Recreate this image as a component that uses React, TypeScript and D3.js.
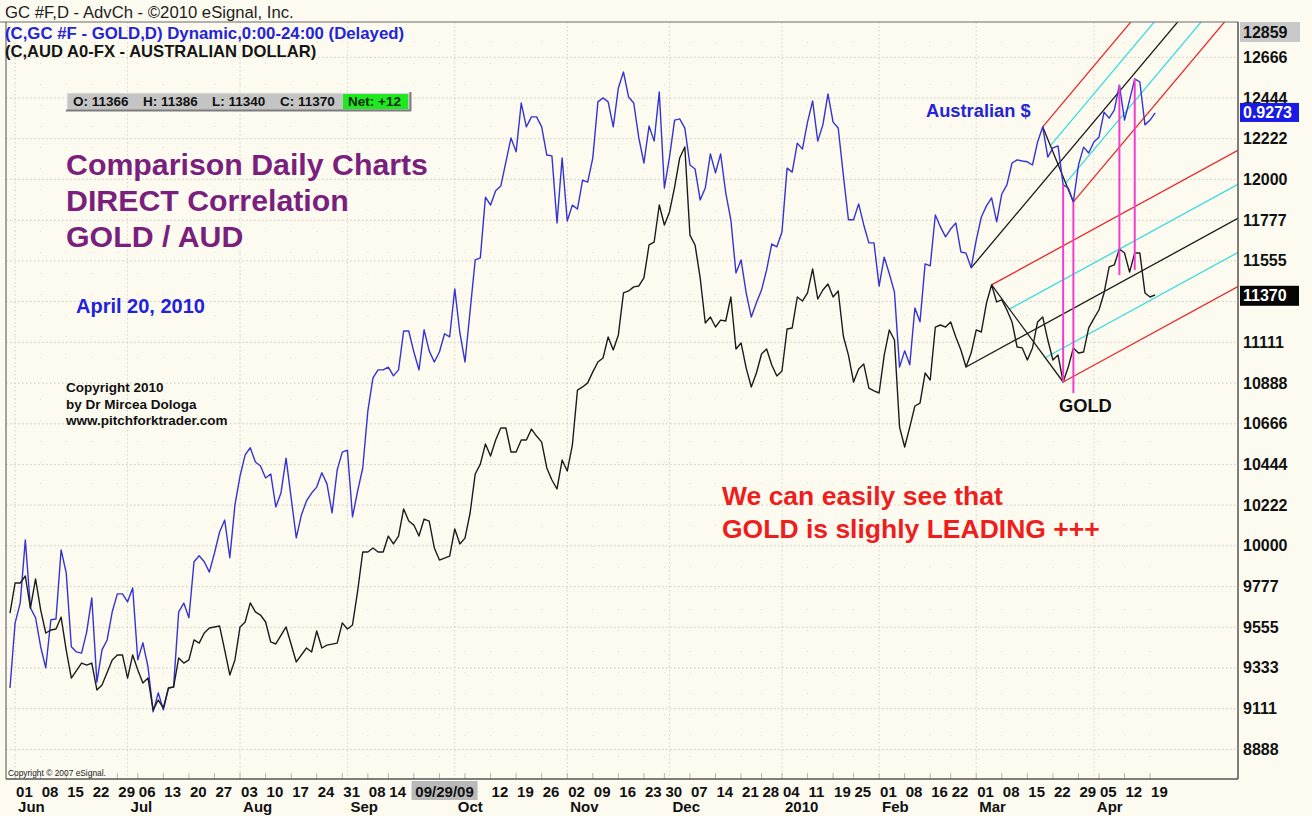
import React, { useEffect } from 'react';
import * as d3 from 'd3';

// ---------- data ----------
// session = trading day counted from Mon 1 Jun 2009 (= 0); 223 = Tue 20 Apr 2010
// Gold (GC #F) daily close, price x10
const goldSeries: [number, number][] = [
  [-1, 9633], [0, 9797], [1, 9797], [2, 9835], [3, 9660], [4, 9819], [5, 9650], [6, 9524], [7, 9540], [8, 9546], [9, 9611], [10, 9431], [11, 9278], [13, 9360], [14, 9349], [15, 9360], [16, 9213], [17, 9240], [19, 9377], [20, 9404], [21, 9404], [22, 9278], [23, 9404], [24, 9322], [25, 9251], [26, 9278], [27, 9104], [28, 9158], [29, 9115], [30, 9224], [31, 9229], [32, 9388], [33, 9360], [34, 9377], [35, 9486], [36, 9469], [37, 9524], [38, 9551], [40, 9562], [41, 9431], [42, 9295], [43, 9377], [44, 9557], [45, 9584], [46, 9688], [47, 9639], [48, 9622], [49, 9584], [50, 9475], [51, 9464], [53, 9557], [55, 9366], [57, 9442], [58, 9420], [59, 9535], [60, 9442], [61, 9458], [63, 9469], [64, 9579], [65, 9546], [66, 9568], [67, 9753], [68, 9966], [69, 9966], [70, 9988], [71, 9966], [72, 9966], [73, 10053], [74, 10010], [75, 10053], [76, 10201], [77, 10135], [78, 10113], [79, 10053], [80, 10146], [81, 10135], [82, 9988], [83, 9922], [85, 9944], [86, 10092], [87, 10010], [88, 10042], [89, 10179], [90, 10392], [91, 10446], [92, 10556], [93, 10490], [94, 10577], [95, 10643], [96, 10643], [97, 10512], [98, 10512], [99, 10577], [100, 10577], [101, 10637], [102, 10599], [103, 10566], [104, 10425], [105, 10359], [106, 10310], [107, 10468], [108, 10408], [109, 10550], [110, 10850], [111, 10867], [112, 10889], [113, 10949], [114, 11003], [115, 11025], [116, 11140], [117, 11069], [118, 11151], [119, 11380], [120, 11391], [121, 11413], [122, 11418], [123, 11462], [124, 11642], [125, 11658], [126, 11860], [127, 11751], [128, 11822], [129, 11958], [130, 12117], [131, 12177], [132, 11696], [133, 11642], [134, 11462], [135, 11216], [136, 11249], [137, 11194], [138, 11232], [139, 11227], [140, 11358], [141, 11074], [142, 11107], [143, 10970], [144, 10867], [145, 10943], [146, 11047], [147, 11074], [148, 10987], [149, 10927], [150, 10954], [151, 11183], [152, 11189], [153, 11358], [154, 11336], [155, 11380], [156, 11511], [157, 11347], [158, 11396], [159, 11429], [160, 11358], [161, 11391], [162, 11145], [163, 11041], [164, 10894], [165, 10965], [166, 10992], [167, 10861], [168, 10845], [169, 10834], [170, 11041], [171, 11178], [172, 11123], [173, 10648], [174, 10539], [175, 10648], [176, 10763], [177, 10779], [178, 10943], [179, 10905], [180, 11194], [181, 11205], [182, 11194], [183, 11222], [184, 11140], [185, 11069], [186, 10976], [187, 11052], [188, 11178], [189, 11167], [190, 11325], [191, 11424], [192, 11331], [193, 11342], [194, 11287], [195, 11222], [196, 11085], [197, 11080], [198, 11014], [199, 11080], [200, 11222], [201, 11249], [202, 11123], [203, 11014], [204, 11041], [205, 10894], [206, 10976], [207, 11080], [208, 11052], [209, 11058], [210, 11189], [211, 11240], [212, 11287], [213, 11380], [214, 11522], [215, 11533], [216, 11620], [217, 11598], [218, 11494], [219, 11598], [220, 11598], [221, 11380], [222, 11358], [223, 11370],
];

// Australian dollar (AUD A0-FX) daily close
const audSeries: [number, number][] = [
  [-1, 0.7825], [0, 0.7989], [1, 0.8039], [2, 0.8198], [3, 0.8027], [4, 0.8002], [5, 0.7929], [6, 0.7876], [7, 0.7997], [8, 0.7999], [9, 0.8173], [10, 0.8115], [11, 0.7929], [12, 0.7916], [13, 0.7913], [14, 0.7966], [15, 0.8052], [16, 0.784], [17, 0.7921], [18, 0.7946], [19, 0.8017], [20, 0.8062], [21, 0.8062], [22, 0.8042], [23, 0.8077], [24, 0.7896], [25, 0.7939], [26, 0.7878], [27, 0.7765], [28, 0.7813], [29, 0.777], [30, 0.7825], [31, 0.7828], [32, 0.8017], [33, 0.8039], [34, 0.8002], [35, 0.8143], [36, 0.8158], [37, 0.8143], [38, 0.8117], [39, 0.8165], [40, 0.8218], [41, 0.8248], [42, 0.8153], [43, 0.8286], [44, 0.8359], [45, 0.8412], [46, 0.843], [47, 0.8394], [48, 0.8384], [49, 0.8354], [50, 0.8364], [51, 0.8281], [52, 0.8316], [53, 0.8404], [55, 0.8203], [56, 0.8261], [57, 0.8296], [58, 0.8316], [59, 0.8331], [60, 0.8367], [61, 0.8339], [62, 0.8266], [63, 0.8374], [64, 0.8419], [65, 0.8424], [66, 0.8256], [67, 0.8321], [68, 0.8379], [69, 0.8523], [70, 0.8606], [71, 0.8626], [72, 0.8626], [73, 0.8633], [74, 0.8611], [75, 0.8626], [76, 0.8724], [77, 0.8724], [78, 0.8671], [79, 0.8626], [80, 0.8727], [81, 0.8674], [82, 0.8646], [83, 0.8671], [84, 0.8717], [85, 0.8709], [86, 0.883], [87, 0.8719], [88, 0.8646], [90, 0.8903], [91, 0.8908], [92, 0.9061], [93, 0.9041], [94, 0.9077], [95, 0.9089], [97, 0.921], [98, 0.9175], [99, 0.9298], [100, 0.9238], [101, 0.9263], [102, 0.9263], [103, 0.9238], [104, 0.9167], [105, 0.9165], [106, 0.8996], [107, 0.916], [108, 0.9001], [109, 0.9041], [110, 0.9031], [111, 0.9104], [112, 0.9099], [113, 0.916], [114, 0.9301], [115, 0.9311], [116, 0.9301], [117, 0.9238], [118, 0.9336], [119, 0.9376], [120, 0.9313], [121, 0.9298], [122, 0.921], [123, 0.9147], [124, 0.924], [125, 0.9202], [126, 0.9326], [127, 0.9084], [128, 0.9162], [129, 0.9255], [130, 0.9258], [131, 0.9235], [132, 0.9142], [133, 0.9132], [134, 0.9054], [135, 0.9084], [136, 0.917], [137, 0.9122], [138, 0.917], [139, 0.9072], [140, 0.9004], [141, 0.887], [142, 0.8903], [143, 0.882], [144, 0.8759], [145, 0.8795], [146, 0.8827], [147, 0.8878], [148, 0.8943], [149, 0.8936], [150, 0.8973], [151, 0.9134], [152, 0.9124], [153, 0.9197], [154, 0.9182], [155, 0.925], [156, 0.9303], [157, 0.9202], [158, 0.9243], [159, 0.9321], [160, 0.925], [161, 0.9235], [162, 0.9117], [163, 0.9004], [164, 0.9004], [165, 0.9044], [166, 0.8991], [167, 0.8946], [168, 0.8946], [169, 0.8837], [170, 0.891], [171, 0.8868], [172, 0.8822], [173, 0.8633], [174, 0.8674], [175, 0.8639], [176, 0.8782], [177, 0.8747], [178, 0.8893], [179, 0.8888], [180, 0.9016], [181, 0.8986], [182, 0.8961], [183, 0.8981], [184, 0.8996], [185, 0.8923], [186, 0.892], [187, 0.8883], [188, 0.8953], [189, 0.9011], [190, 0.9039], [191, 0.9059], [192, 0.8999], [193, 0.9069], [194, 0.9092], [195, 0.9147], [196, 0.9155], [197, 0.9152], [198, 0.915], [199, 0.9142], [200, 0.92], [201, 0.9238], [202, 0.9162], [203, 0.9185], [204, 0.919], [205, 0.9092], [206, 0.9084], [207, 0.9049], [208, 0.9142], [209, 0.9187], [210, 0.9172], [211, 0.92], [212, 0.9212], [213, 0.9275], [214, 0.926], [215, 0.928], [216, 0.9343], [217, 0.9255], [218, 0.9306], [219, 0.9359], [220, 0.9351], [221, 0.9243], [222, 0.9255], [223, 0.9273],
];

// Andrews pitchforks: pivots A, B, C as [session, value]
const goldFork: [number, number][] = [[186, 10976], [191, 11424], [205, 10894]];
const audFork: [number, number][] = [[187, 0.8883], [201, 0.9238], [207, 0.9049]];

// magenta time markers
const markerSessions = [205, 207, 216, 219];
const markerAudTop = [0.9092, 0.9049, 0.9343, 0.9359];
const markerGoldBottom = [10894, 10834, 11478, 11505];

// axis
const yTickValues = [12666, 12444, 12222, 12000, 11777, 11555, 11333, 11111, 10888, 10666, 10444, 10222, 10000, 9777, 9555, 9333, 9111, 8888];
const yTopValue = 12859;
const lastGold = 11370;
const lastAud = 0.9273;
const dayTicks: [number, string][] = [
  [0, '01'], [5, '08'], [10, '15'], [15, '22'], [20, '29'], [24, '06'], [29, '13'], [34, '20'], [39, '27'], [44, '03'], [49, '10'], [54, '17'], [59, '24'], [64, '31'], [69, '08'], [73, '14'], [78, '21'], [83, '28'], [88, '05'], [93, '12'], [98, '19'], [103, '26'], [108, '02'], [113, '09'], [118, '16'], [123, '23'], [127, '30'], [132, '07'], [137, '14'], [142, '21'], [146, '28'], [150, '04'], [155, '11'], [160, '19'], [164, '25'], [169, '01'], [174, '08'], [179, '16'], [183, '22'], [188, '01'], [193, '08'], [198, '15'], [203, '22'], [208, '29'], [212, '05'], [217, '12'], [222, '19'],
];
const monthTicks: [number, string][] = [
  [0, 'Jun'], [22, 'Jul'], [44, 'Aug'], [65, 'Sep'], [86, 'Oct'], [108, 'Nov'], [128, 'Dec'], [150, '2010'], [169, 'Feb'], [188, 'Mar'], [211, 'Apr'],
];
const cursorSession = 84;
const cursorLabel = '09/29/09';

const ohlcLabels = ['O', 'H', 'L', 'C'];
const ohlcValues = [11366, 11386, 11340, 11370];
const netChange = 12;

// ---------- layout ----------
const W = 1312, H = 816;
const PL = 6, PR = 1238, PT = 22, PB = 779;
const BG = '#fdfbf0';
const FONT = "'Liberation Sans', Arial, Helvetica, sans-serif";

type P = [number, number];

export default function App() {
  useEffect(() => {
    document.body.style.margin = '0';
    document.body.style.background = BG;
  }, []);

  const x = d3.scaleLinear().domain([-1.78, 239.2]).range([PL, PR]);
  const yG = d3.scaleLinear().domain([8727, 12859]).range([PB, PT]);
  const yA = d3.scaleLinear().domain([0.7596, 0.9502]).range([PB, PT]);

  const goldLine = d3.line<[number, number]>().x(d => x(d[0])).y(d => yG(d[1]))(goldSeries) || '';
  const audLine = d3.line<[number, number]>().x(d => x(d[0])).y(d => yA(d[1]))(audSeries) || '';

  const fork = (pts: [number, number][], ys: d3.ScaleLinear<number, number>) => {
    const [A, B, C] = pts.map(([s, v]) => [x(s), ys(v)] as P);
    const M: P = [(B[0] + C[0]) / 2, (B[1] + C[1]) / 2];
    const d: P = [M[0] - A[0], M[1] - A[1]];
    const ext = (p: P): [P, P] => [p, [p[0] + d[0] * 20, p[1] + d[1] * 20]];
    const lerp = (t: number): P => [B[0] + (C[0] - B[0]) * t, B[1] + (C[1] - B[1]) * t];
    return [
      { seg: ext(A), c: '#1a1a1a' },
      { seg: ext(B), c: '#e8282c' },
      { seg: ext(C), c: '#e8282c' },
      { seg: ext(lerp(0.25)), c: '#38dcdc' },
      { seg: ext(lerp(0.75)), c: '#38dcdc' },
      { seg: [B, C] as [P, P], c: '#1a1a1a' },
    ];
  };
  const forkSegs = [...fork(goldFork, yG), ...fork(audFork, yA)];

  const cx = x(cursorSession);
  const boxHalf = 33;
  const visibleDays = dayTicks.filter(([s]) => {
    const x0 = x(s) + 1, x1 = x0 + 17;
    return x1 < cx - boxHalf || x0 > cx + boxHalf;
  });

  const goldBoxY = yG(lastGold);
  const audBoxY = yA(lastAud);

  const ohlcX = [73, 143, 212, 280];

  return (
    <svg width={W} height={H} style={{ display: 'block', background: BG }} fontFamily={FONT}>
      <defs>
        <clipPath id="plotclip">
          <rect x={PL} y={PT} width={PR - PL} height={PB - PT} />
        </clipPath>
      </defs>
      <rect x={0} y={0} width={W} height={H} fill={BG} />

      {/* grid */}
      <g>
        {yTickValues.map(v => (
          <line key={'h' + v} x1={PL} x2={PR} y1={yG(v)} y2={yG(v)} stroke="#c9c9c2" strokeWidth={1} strokeDasharray="1.5,2.5" />
        ))}
        {monthTicks.map(([s]) => (
          <line key={'vm' + s} x1={x(s)} x2={x(s)} y1={PT} y2={PB} stroke="#d2d2ca" strokeWidth={1} strokeDasharray="1.5,2.5" />
        ))}
        {dayTicks.map(([s]) => (
          <line key={'vd' + s} x1={x(s)} x2={x(s)} y1={PT + 20} y2={PB} stroke="#dcdcd4" strokeWidth={1} strokeDasharray="1,20" />
        ))}
        {dayTicks.map(([s]) => (
          <line key={'tk' + s} x1={x(s)} x2={x(s)} y1={PB - 6} y2={PB} stroke="#b8b8b0" strokeWidth={1} />
        ))}
      </g>

      {/* header */}
      <text x={5} y={18} fontSize={16.7} fill="#1e1e1e">GC #F,D - AdvCh - ©2010 eSignal, Inc.</text>

      <g clipPath="url(#plotclip)">
        {forkSegs.map((f, i) => (
          <line key={'f' + i} x1={f.seg[0][0]} y1={f.seg[0][1]} x2={f.seg[1][0]} y2={f.seg[1][1]} stroke={f.c} strokeWidth={1.3} />
        ))}
        <path d={audLine} fill="none" stroke="#3434d2" strokeWidth={1.4} strokeLinejoin="round" />
        <path d={goldLine} fill="none" stroke="#1c1c1c" strokeWidth={1.4} strokeLinejoin="round" />
        {markerSessions.map((s, i) => (
          <line key={'m' + i} x1={x(s)} x2={x(s)} y1={yA(markerAudTop[i])} y2={yG(markerGoldBottom[i])} stroke="#f23cd0" strokeWidth={2} />
        ))}
      </g>

      {/* plot frame */}
      <line x1={0} x2={PR} y1={PT} y2={PT} stroke="#6a6a6a" strokeWidth={1.2} />
      <line x1={PL} x2={PL} y1={PT} y2={PB} stroke="#6a6a6a" strokeWidth={1.2} />
      <line x1={PL} x2={PR} y1={PB} y2={PB} stroke="#555" strokeWidth={1.5} />
      <line x1={PR} x2={PR} y1={PT} y2={PB} stroke="#555" strokeWidth={1.5} />

      {/* legend lines */}
      <text x={5} y={39} fontSize={16.8} fontWeight="bold" fill="#2424d8">(C,GC #F - GOLD,D) Dynamic,0:00-24:00 (Delayed)</text>
      <text x={5} y={57} fontSize={16.6} fontWeight="bold" fill="#151515">(C,AUD A0-FX - AUSTRALIAN DOLLAR)</text>

      {/* OHLC bar */}
      <g>
        <rect x={67} y={93} width={343} height={17} fill="#c4c4c4" />
        <line x1={67} x2={67} y1={93} y2={110} stroke="#ececec" strokeWidth={1} />
        <line x1={67} x2={410} y1={93} y2={93} stroke="#ececec" strokeWidth={1} />
        <line x1={410.5} x2={410.5} y1={92} y2={111} stroke="#7c7c7c" strokeWidth={2} />
        <line x1={66} x2={411} y1={110.5} y2={110.5} stroke="#7c7c7c" strokeWidth={2} />
        <rect x={343} y={94} width={65} height={15} fill="#1ee81e" />
        {ohlcLabels.map((l, i) => (
          <text key={l} x={ohlcX[i]} y={106} fontSize={13.5} fontWeight="bold" fill="#111">{`${l}: ${ohlcValues[i]}`}</text>
        ))}
        <text x={348} y={106} fontSize={13.5} fontWeight="bold" fill="#0a2a0a">{`Net: +${netChange}`}</text>
      </g>

      {/* annotations */}
      <g fontWeight="bold">
        <text x={66} y={175} fontSize={30.3} fill="#7a1f7e">Comparison Daily Charts</text>
        <text x={66} y={211} fontSize={30.3} fill="#7a1f7e">DIRECT Correlation</text>
        <text x={66} y={247} fontSize={30.3} fill="#7a1f7e">GOLD / AUD</text>
        <text x={76} y={313} fontSize={20} fill="#2222dd">April 20, 2010</text>
        <text x={66} y={392} fontSize={13.5} fill="#111">Copyright 2010</text>
        <text x={66} y={409} fontSize={13.5} fill="#111">by Dr Mircea Dologa</text>
        <text x={66} y={425} fontSize={13.5} fill="#111">www.pitchforktrader.com</text>
        <text x={926} y={117} fontSize={18.3} fill="#2424d8">Australian $</text>
        <text x={1059} y={412} fontSize={18.3} fill="#111">GOLD</text>
        <text x={722} y={505} fontSize={26.5} fill="#ee1e1e">We can easily see that</text>
        <text x={722} y={538} fontSize={26.5} fill="#ee1e1e">GOLD is slighly LEADING +++</text>
      </g>
      <text x={8} y={776} fontSize={8.4} fill="#222">Copyright © 2007 eSignal.</text>

      {/* right axis */}
      <g fontWeight="bold" fontSize={16}>
        <rect x={PR + 2} y={PT} width={60} height={20} fill="#c8c8c8" />
        <text x={PR + 5} y={PT + 10} dominantBaseline="central" fill="#111">{yTopValue}</text>
        {yTickValues.filter(v => Math.abs(yG(v) - goldBoxY) > 14).map(v => (
          <text key={'yl' + v} x={PR + 5} y={yG(v)} dominantBaseline="central" fill="#111">{v}</text>
        ))}
        <rect x={PR + 2} y={audBoxY - 10} width={59} height={19} fill="#1a1ae6" />
        <text x={PR + 5} y={audBoxY} dominantBaseline="central" fill="#fff">{lastAud.toFixed(4)}</text>
        <rect x={PR + 2} y={goldBoxY - 9} width={59} height={20} fill="#050505" />
        <text x={PR + 5} y={goldBoxY + 1} dominantBaseline="central" fill="#fff">{lastGold}</text>
      </g>

      {/* bottom axis */}
      <g fontWeight="bold" fontSize={15} fill="#111">
        {visibleDays.map(([s, l]) => (
          <text key={'d' + s} x={x(s) + 1} y={797}>{l}</text>
        ))}
        <rect x={cx - boxHalf} y={781} width={boxHalf * 2} height={19} fill="#b9b9b9" />
        <text x={cx} y={797} textAnchor="middle">{cursorLabel}</text>
        {monthTicks.map(([s, l]) => (
          <text key={'mo' + s} x={x(s) + 3} y={812}>{l}</text>
        ))}
      </g>
    </svg>
  );
}
